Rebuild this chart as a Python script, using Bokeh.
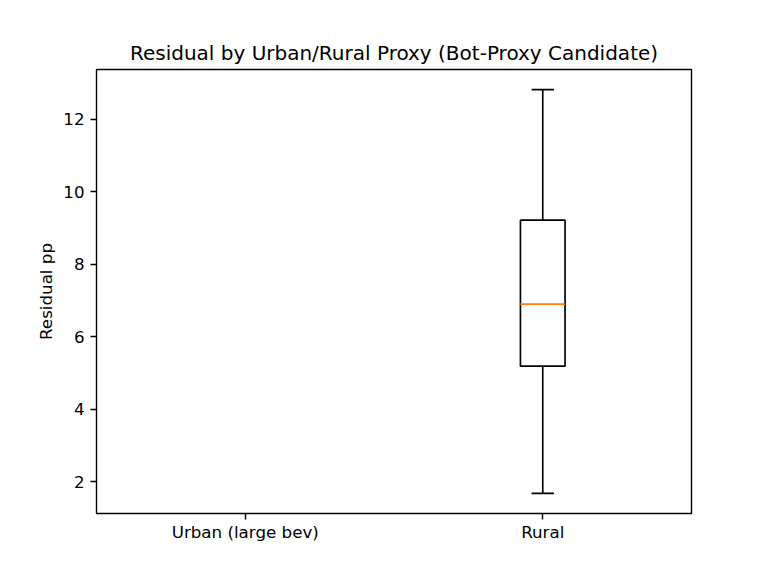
import numpy as np
from bokeh.plotting import figure
from bokeh.models import ColumnDataSource, FixedTicker, Range1d
from bokeh.embed import file_html
from bokeh.resources import INLINE

categories = ["Urban (large bev)", "Rural"]
whisker_low = [np.nan, 1.68]
q1 = [np.nan, 5.19]
median = [np.nan, 6.90]
q3 = [np.nan, 9.22]
whisker_high = [np.nan, 12.82]
y_ticks = [2, 4, 6, 8, 10, 12]

pos = [1, 2]
box_w = 0.15
cap_w = 0.075

src = ColumnDataSource(dict(
    x=pos,
    left=[p - box_w / 2 for p in pos],
    right=[p + box_w / 2 for p in pos],
    cl=[p - cap_w / 2 for p in pos],
    cr=[p + cap_w / 2 for p in pos],
    wl=whisker_low, q1=q1, med=median, q3=q3, wh=whisker_high,
))

lo = np.nanmin(whisker_low)
hi = np.nanmax(whisker_high)
pad = 0.05 * (hi - lo)

p = figure(
    output_backend="svg", toolbar_location=None,
    width=752, height=560,
    frame_width=595, frame_height=444,
    min_border_left=96, min_border_right=61, min_border_top=69, min_border_bottom=47,
    x_range=Range1d(0.5, 2.5), y_range=Range1d(lo - pad, hi + pad),
    title="Residual by Urban/Rural Proxy (Bot-Proxy Candidate)",
)
p.background_fill_color = "white"
p.border_fill_color = "white"
p.outline_line_color = "black"
p.outline_line_width = 1.4
p.outline_line_alpha = 1
p.xgrid.visible = False
p.ygrid.visible = False

p.title.align = "center"
p.title.text_font = "DejaVu Sans"
p.title.text_font_size = "20px"
p.title.text_font_style = "normal"
p.title.text_color = "black"
p.title.standoff = 10

for ax in (p.xaxis[0], p.yaxis[0]):
    ax.major_label_text_font = "DejaVu Sans"
    ax.major_label_text_font_size = "16.7px"
    ax.major_label_text_color = "black"
    ax.axis_line_color = None
    ax.major_tick_line_color = "black"
    ax.major_tick_line_width = 1.4
    ax.major_tick_in = 0
    ax.major_tick_out = 6
    ax.minor_tick_line_color = None
    ax.major_label_standoff = 6

p.xaxis[0].major_label_standoff = 2
p.xaxis[0].ticker = FixedTicker(ticks=pos)
p.xaxis[0].major_label_overrides = {pos[i]: categories[i] for i in range(len(pos))}
p.yaxis[0].ticker = FixedTicker(ticks=y_ticks)
p.yaxis[0].axis_label = "Residual pp"
p.yaxis[0].axis_label_text_font = "DejaVu Sans"
p.yaxis[0].axis_label_text_font_size = "16.7px"
p.yaxis[0].axis_label_text_font_style = "normal"
p.yaxis[0].axis_label_text_color = "black"
p.yaxis[0].axis_label_standoff = 4

lw = 1.67
p.segment(x0="x", y0="wl", x1="x", y1="q1", source=src, line_color="black", line_width=lw)
p.segment(x0="x", y0="q3", x1="x", y1="wh", source=src, line_color="black", line_width=lw)
p.segment(x0="cl", y0="wl", x1="cr", y1="wl", source=src, line_color="black", line_width=lw)
p.segment(x0="cl", y0="wh", x1="cr", y1="wh", source=src, line_color="black", line_width=lw)
p.quad(left="left", right="right", bottom="q1", top="q3", source=src,
       fill_color=None, line_color="black", line_width=lw)
p.segment(x0="left", y0="med", x1="right", y1="med", source=src, line_color="#ff7f0e", line_width=lw)

open("out.html", "w").write(file_html(p, INLINE))
